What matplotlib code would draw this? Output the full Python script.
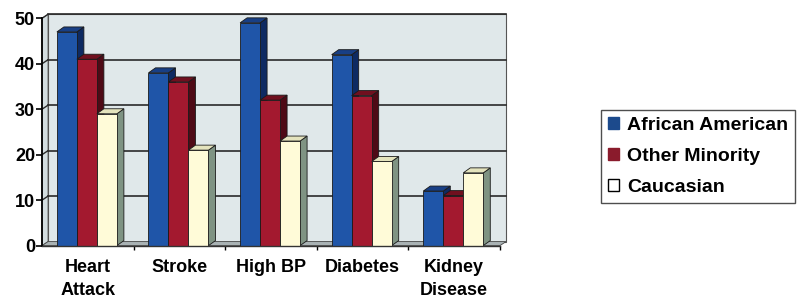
import matplotlib
matplotlib.use("Agg")
import matplotlib.pyplot as plt
from matplotlib.patches import Polygon, Patch

plt.rcParams['font.family'] = ['Liberation Sans', 'DejaVu Sans']
plt.rcParams['font.weight'] = 'bold'

# data
categories = ["Heart\nAttack", "Stroke", "High BP", "Diabetes", "Kidney\nDisease"]
series_names = ["African American", "Other Minority", "Caucasian"]
african_american = [47, 38, 49, 42, 12]
other_minority = [41, 36, 32, 33, 11]
caucasian = [29, 21, 23, 18.5, 16]
yticks = [0, 10, 20, 30, 40, 50]

# front / side / top colours for each series
front_colors = ["#1f55a8", "#a3192f", "#fffbd8"]
side_colors = ["#0e2a62", "#4e0a16", "#7f9383"]
top_colors = ["#183f85", "#70101f", "#e4e3bd"]
legend_colors = ["#1c4a8c", "#8a1b2c", "white"]

fig = plt.figure(figsize=(7.97, 3.04), dpi=100)
ax = fig.add_axes([42 / 797, 1 - 245.6 / 304, 458 / 797, 227.3 / 304])
ax.set_xlim(0, 5)
ax.set_ylim(0, 50)
for s in ax.spines.values():
    s.set_visible(False)

px_x = 458 / 5.0    # pixels per category
px_y = 227.3 / 50.0  # pixels per value unit
wdx, wdy = 6 / px_x, 4 / px_y   # wall depth
bdx, bdy = 7 / px_x, 5 / px_y   # bar depth

# walls and floor
wall_col = "#e0e8ea"
ax.add_patch(Polygon([(wdx, wdy), (5 + wdx, wdy), (5 + wdx, 50 + wdy), (wdx, 50 + wdy)],
                     closed=True, fc=wall_col, ec="#555555", lw=0.8, clip_on=False, zorder=0))
ax.add_patch(Polygon([(0, 0), (wdx, wdy), (wdx, 50 + wdy), (0, 50)],
                     closed=True, fc="#d3dde0", ec="#555555", lw=0.6, clip_on=False, zorder=0))
ax.add_patch(Polygon([(0, 0), (5, 0), (5 + wdx, wdy), (wdx, wdy)],
                     closed=True, fc="#a9b2b4", ec="#444444", lw=0.6, clip_on=False, zorder=0))
for y in yticks[1:]:
    ax.plot([wdx, 5 + wdx], [y + wdy, y + wdy], color="#2a2a2a", lw=1.2, zorder=1, clip_on=False)
    ax.plot([0, wdx], [y, y + wdy], color="#2a2a2a", lw=1.0, zorder=1, clip_on=False)

# 3D-looking bars
w = 20 / px_x
series = [african_american, other_minority, caucasian]
z = 2
for i in range(len(categories)):
    left0 = i + 0.49 - 1.5 * w
    for k, vals in enumerate(series):
        x0 = left0 + k * w
        x1 = x0 + w
        h = vals[i]
        front = Polygon([(x0, 0), (x1, 0), (x1, h), (x0, h)], closed=True,
                        fc=front_colors[k], ec="#1a1a1a", lw=0.6, zorder=z)
        side = Polygon([(x1, 0), (x1 + bdx, bdy), (x1 + bdx, h + bdy), (x1, h)], closed=True,
                       fc=side_colors[k], ec="#1a1a1a", lw=0.6, zorder=z)
        top = Polygon([(x0, h), (x1, h), (x1 + bdx, h + bdy), (x0 + bdx, h + bdy)], closed=True,
                      fc=top_colors[k], ec="#1a1a1a", lw=0.6, zorder=z, clip_on=False)
        ax.add_patch(side)
        ax.add_patch(top)
        ax.add_patch(front)
        z += 1

# axes lines
ax.plot([0, 0], [0, 50], color="black", lw=1.3, zorder=30, clip_on=False)
ax.plot([0, 5], [0, 0], color="#333333", lw=1.0, zorder=30, clip_on=False)

ax.set_yticks(yticks)
ax.set_yticklabels([str(t) for t in yticks], fontsize=13, fontweight='bold')
ax.tick_params(axis='y', length=4, width=1.2, direction='out', pad=1)
ax.set_xticks([i + 0.5 for i in range(len(categories))])
ax.set_xticklabels(categories, fontsize=13, fontweight='bold', linespacing=1.45)
ax.tick_params(axis='x', length=0, pad=10)
ax.set_xticks([1, 2, 3, 4, 5], minor=True)
ax.tick_params(axis='x', which='minor', length=3, width=1, direction='out')

handles = [Patch(facecolor=legend_colors[k], edgecolor="black" if k == 2 else legend_colors[k],
                 lw=1.0) for k in range(3)]
leg = fig.legend(handles, series_names, loc='upper left',
                 bbox_to_anchor=(601 / 797, 1 - 110 / 304),
                 prop={'family': 'Liberation Sans', 'weight': 'bold', 'size': 14},
                 frameon=True, fancybox=False, edgecolor="#222222",
                 handlelength=0.55, handleheight=0.55, handletextpad=0.45,
                 borderpad=0.35, labelspacing=0.72, borderaxespad=0)
leg.get_frame().set_linewidth(1.0)

fig.savefig("out.png", dpi=100)
